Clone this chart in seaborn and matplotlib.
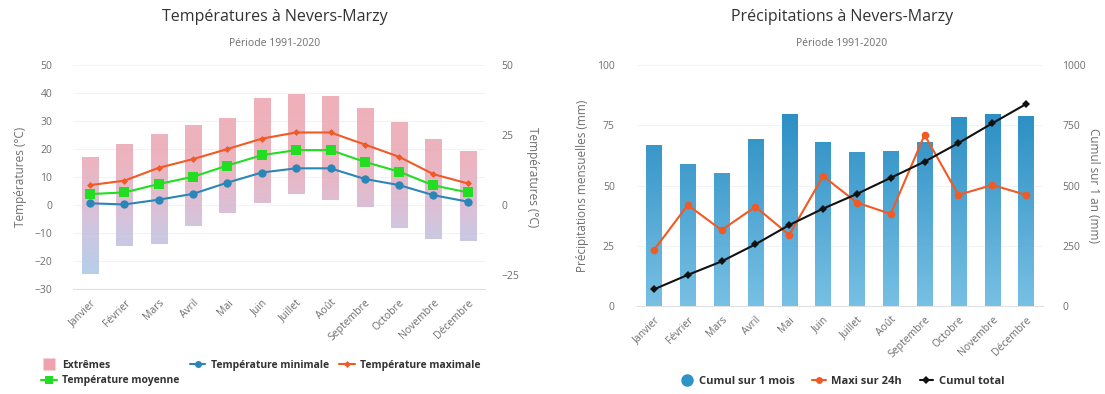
import numpy as np
import matplotlib
matplotlib.use("Agg")
import matplotlib.pyplot as plt
import seaborn as sns
from matplotlib.colors import LinearSegmentedColormap
from matplotlib.lines import Line2D

months = ["Janvier", "Février", "Mars", "Avril", "Mai", "Juin", "Juillet",
          "Août", "Septembre", "Octobre", "Novembre", "Décembre"]
ext_max = [17.2, 21.7, 25.4, 28.6, 31.1, 38.3, 39.5, 39.0, 34.8, 29.8, 23.4, 19.2]
ext_min = [-24.6, -14.6, -13.8, -7.4, -2.9, 0.7, 3.9, 1.9, -0.7, -8.3, -12.0, -12.9]
t_max = [7.1, 8.7, 13.3, 16.4, 20.0, 23.7, 25.9, 25.9, 21.6, 17.2, 11.0, 7.7]
t_moy = [3.9, 4.5, 7.5, 10.1, 14.1, 17.8, 19.6, 19.6, 15.4, 11.9, 7.0, 4.5]
t_min = [0.6, 0.2, 1.9, 4.0, 8.0, 11.6, 13.1, 13.1, 9.3, 7.1, 3.5, 1.2]
precip = [66.8, 58.9, 55.2, 69.3, 79.5, 67.9, 63.8, 64.3, 68.0, 78.6, 79.5, 79.0]
maxi24 = [23.2, 41.9, 31.5, 41.2, 29.5, 53.9, 42.9, 38.2, 71.0, 46.1, 50.2, 46.1]
cumul = [69, 129, 185, 256, 336, 404, 465, 532, 599, 676, 758, 838]

sns.set_theme(style="white")
plt.rcParams['font.family'] = ['Open Sans', 'DejaVu Sans']

TXT = "#333333"
TICK = "#6e6e6e"
GRID = "#f3f3f3"
RED = "#f15a24"
GREEN = "#22dd22"
BLUE = "#2b86b8"
PBLUE = "#2e93c8"

fig = plt.figure(figsize=(11.05, 3.94), dpi=100)
W, H = 1105, 394

def ax_rect(x0, x1, ytop, ybot):
    return [x0 / W, 1 - ybot / H, (x1 - x0) / W, (ybot - ytop) / H]

x = np.arange(12)

# ---------------- Left chart: temperatures ----------------
ax1 = fig.add_axes(ax_rect(73, 485, 65, 289))
ax1.set_xlim(-0.5, 11.5)
ax1.set_ylim(-30, 50)
ax1.set_yticks(np.arange(-30, 51, 10))
for yv in np.arange(-30, 51, 10):
    ax1.axhline(yv, color=GRID, lw=0.8, zorder=0)

bars = ax1.bar(x, np.array(ext_max) - np.array(ext_min), bottom=ext_min,
               width=0.47, color='none', edgecolor='none', zorder=1)
tcmap = LinearSegmentedColormap.from_list(
    't', [(0.0, '#a9c6e6'), (0.22, '#c3bedd'), (0.4, '#d9b3cc'),
          (0.6, '#e8a8b6'), (1.0, '#eea2ad')])
grad = np.linspace(0, 1, 256).reshape(-1, 1)
for b in bars:
    im = ax1.imshow(grad, extent=(-0.5, 11.5, -25, 40), origin='lower',
                    aspect='auto', cmap=tcmap, zorder=1, alpha=0.85)
    im.set_clip_path(b)
ax1.set_xlim(-0.5, 11.5)
ax1.set_ylim(-30, 50)

sns.lineplot(x=x, y=t_min, ax=ax1, color=BLUE, marker='o', markersize=6,
             markeredgewidth=0, lw=1.5, zorder=3)
sns.lineplot(x=x, y=t_moy, ax=ax1, color=GREEN, marker='s', markersize=6.5,
             markeredgewidth=0, lw=1.5, zorder=3)
sns.lineplot(x=x, y=t_max, ax=ax1, color=RED, marker='D', markersize=3.5,
             markeredgewidth=0, lw=1.5, zorder=3)

ax1.set_xticks(x)
ax1.set_xticklabels(months, rotation=45, ha='right', rotation_mode='anchor',
                    fontsize=7.5, color=TICK)
ax1.tick_params(axis='x', length=0, pad=6)
ax1.tick_params(axis='y', length=0, pad=15, labelsize=7.5, labelcolor=TICK)
for s in ['top', 'right', 'left']:
    ax1.spines[s].set_visible(False)
ax1.spines['bottom'].set_color('#e0e0e0')
ax1.spines['bottom'].set_linewidth(0.8)
ax1.set_ylabel("Températures (°C)", fontsize=8.5, color=TICK, labelpad=5)
ax1.set_xlabel("")

ax1r = ax1.twinx()
ax1r.set_ylim(-30, 50)
ax1r.set_yticks([-25, 0, 25, 50])
ax1r.tick_params(axis='y', length=0, pad=12, labelsize=7.5, labelcolor=TICK)
for s in ['top', 'right', 'left', 'bottom']:
    ax1r.spines[s].set_visible(False)
ax1r.set_ylabel("Températures (°C)", fontsize=8.5, color=TICK, rotation=270,
                labelpad=14)

fig.text(275 / W, 1 - 17 / H, "Températures à Nevers-Marzy", ha='center',
         va='center', fontsize=11.5, color=TXT)
fig.text(275 / W, 1 - 44 / H, "Période 1991-2020", ha='center', va='center',
         fontsize=7.5, color=TICK)

h_ext = Line2D([], [], marker='s', color='none', markerfacecolor='#eea2ad',
               markeredgecolor='none', markersize=8)
h_min = Line2D([], [], color=BLUE, marker='o', markersize=5, markeredgewidth=0, lw=1.5)
h_moy = Line2D([], [], color=GREEN, marker='s', markersize=5.5, markeredgewidth=0, lw=1.5)
h_max = Line2D([], [], color=RED, marker='D', markersize=3.5, markeredgewidth=0, lw=1.5)
leg1 = fig.legend([h_ext, h_moy, h_min, h_max],
                  ["Extrêmes", "Température moyenne", "Température minimale",
                   "Température maximale"],
                  ncol=3, loc='center left', bbox_to_anchor=(36 / W, 1 - 373 / H),
                  frameon=False, prop={'weight': 'bold', 'size': 7.5},
                  handlelength=1.5, handletextpad=0.5, columnspacing=1.0,
                  labelspacing=0.45, borderpad=0)
for t in leg1.get_texts():
    t.set_color(TXT)

# ---------------- Right chart: precipitation ----------------
ax2 = fig.add_axes(ax_rect(637, 1043, 65, 306))
ax2.set_xlim(-0.5, 11.5)
ax2.set_ylim(0, 100)
for yv in [0, 25, 50, 75, 100]:
    ax2.axhline(yv, color=GRID, lw=0.8, zorder=0)

sns.barplot(x=x, y=precip, ax=ax2, color=PBLUE, width=0.45, native_scale=True,
            zorder=1)
pcmap = LinearSegmentedColormap.from_list('p', ['#78c0e4', '#2c8fc4'])
for b in list(ax2.patches):
    b.set_facecolor('none')
    b.set_edgecolor('none')
    im = ax2.imshow(grad, extent=(-0.5, 11.5, 0, 80), origin='lower',
                    aspect='auto', cmap=pcmap, zorder=1)
    im.set_clip_path(b)
ax2.set_xlim(-0.5, 11.5)
ax2.set_ylim(0, 100)

sns.lineplot(x=x, y=maxi24, ax=ax2, color=RED, marker='o', markersize=5.5,
             markeredgewidth=0, lw=1.5, zorder=3)
ax2.set_xticks(x)
ax2.set_xticklabels(months, rotation=45, ha='right', rotation_mode='anchor',
                    fontsize=7.5, color=TICK)
ax2.set_yticks([0, 25, 50, 75, 100])
ax2.tick_params(axis='x', length=0, pad=6)
ax2.tick_params(axis='y', length=0, pad=16, labelsize=7.5, labelcolor=TICK)
for s in ['top', 'right', 'left']:
    ax2.spines[s].set_visible(False)
ax2.spines['bottom'].set_color('#e0e0e0')
ax2.spines['bottom'].set_linewidth(0.8)
ax2.set_ylabel("Précipitations mensuelles (mm)", fontsize=8.5, color=TICK,
               labelpad=6)
ax2.set_xlabel("")

ax2r = ax2.twinx()
ax2r.set_ylim(0, 1000)
ax2r.set_yticks([0, 250, 500, 750, 1000])
sns.lineplot(x=x, y=cumul, ax=ax2r, color='#111111', marker='D', markersize=4,
             markeredgewidth=0, lw=1.5, zorder=4)
ax2r.tick_params(axis='y', length=0, pad=14, labelsize=7.5, labelcolor=TICK)
for s in ['top', 'right', 'left', 'bottom']:
    ax2r.spines[s].set_visible(False)
ax2r.set_ylabel("Cumul sur 1 an (mm)", fontsize=8.5, color=TICK, rotation=270,
                labelpad=10)
ax2r.set_xlim(-0.5, 11.5)

fig.text(842 / W, 1 - 17 / H, "Précipitations à Nevers-Marzy", ha='center',
         va='center', fontsize=11.5, color=TXT)
fig.text(842 / W, 1 - 44 / H, "Période 1991-2020", ha='center', va='center',
         fontsize=7.5, color=TICK)

h_cm = Line2D([], [], marker='o', color='none', markerfacecolor=PBLUE,
              markeredgecolor='none', markersize=9)
h_mx = Line2D([], [], color=RED, marker='o', markersize=5, markeredgewidth=0, lw=1.5)
h_ct = Line2D([], [], color='#111111', marker='D', markersize=4, markeredgewidth=0, lw=1.5)
leg2 = fig.legend([h_cm, h_mx, h_ct],
                  ["Cumul sur 1 mois", "Maxi sur 24h", "Cumul total"],
                  ncol=3, loc='center', bbox_to_anchor=(842 / W, 1 - 381 / H),
                  frameon=False, prop={'weight': 'bold', 'size': 8},
                  handlelength=1.2, handletextpad=0.5, columnspacing=1.6,
                  borderpad=0)
for t in leg2.get_texts():
    t.set_color(TXT)

fig.savefig("out.png", dpi=100, facecolor='white')
